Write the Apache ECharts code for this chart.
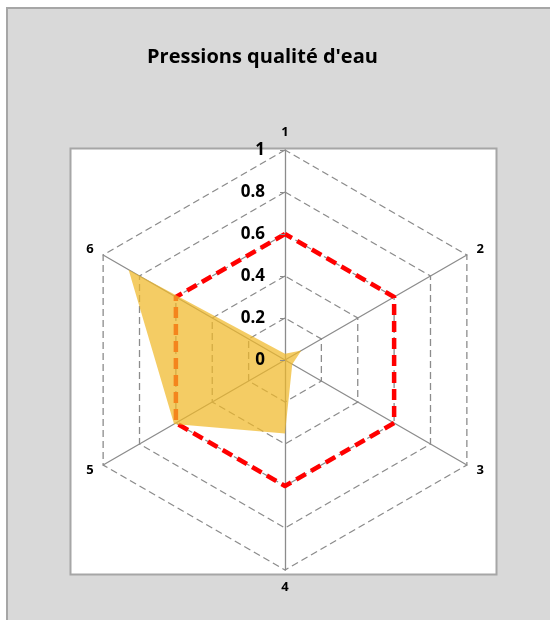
<!DOCTYPE html>
<html>
<head>
<meta charset="utf-8">
<script src="https://cdn.jsdelivr.net/npm/echarts@6/dist/echarts.min.js"></script>
<style>
  html, body { margin: 0; padding: 0; background: #fff; }
  #chart { width: 550px; height: 620px; }
</style>
</head>
<body>
<div id="chart"></div>
<script>
// axis names, clockwise from the top
const indicatorNames = ["1", "2", "3", "4", "5", "6"];
// pressure values
const pressureValues = [0.03, 0.09, 0.04, 0.35, 0.61, 0.86];
// red dashed threshold
const thresholdValues = [0.6, 0.6, 0.6, 0.6, 0.6, 0.6];
const axisMin = 0;
const axisMax = 1;
const axisStep = 0.2;

// echarts places radar indicators counter-clockwise, so walk 1,6,5,4,3,2
const order = [0, 5, 4, 3, 2, 1];
const pick = arr => order.map(i => arr[i]);

const chart = echarts.init(document.getElementById("chart"));

const labelFont = "Open Sans";

// first radar draws the web, second only carries the tick labels on top
const webIndicators = pick(indicatorNames).map(name => ({ name: name, min: axisMin, max: axisMax }));
const labelIndicators = pick(indicatorNames).map((name, i) => {
  const ind = { name: "", min: axisMin, max: axisMax };
  if (i === 0) {
    ind.axisLabel = {
      show: true,
      color: "#000",
      fontSize: 17,
      fontWeight: "bold",
      fontFamily: labelFont,
      margin: 20
    };
    ind.axisTick = {
      show: true,
      length: 5,
      lineStyle: { color: "#8c8c8c" }
    };
  }
  return ind;
});

const radarBase = {
  center: [285, 360],
  radius: 210,
  startAngle: 90,
  splitNumber: (axisMax - axisMin) / axisStep,
  shape: "polygon"
};

chart.setOption({
  animation: false,
  backgroundColor: "#fff",
  graphic: [
    {
      type: "rect",
      z: -10,
      shape: { x: 7, y: 8, width: 560, height: 630 },
      style: { fill: "#d9d9d9", stroke: "#a6a6a6", lineWidth: 2 }
    },
    {
      type: "rect",
      z: -9,
      shape: { x: 70.5, y: 148.5, width: 426, height: 426 },
      style: { fill: "#fff", stroke: "#a6a6a6", lineWidth: 2 }
    }
  ],
  title: {
    text: "Pressions qualité d'eau",
    left: 142,
    top: 42,
    textStyle: {
      fontFamily: labelFont,
      fontSize: 20,
      fontWeight: "bold",
      color: "#000"
    }
  },
  radar: [
    Object.assign({}, radarBase, {
      z: 1,
      indicator: webIndicators,
      axisName: {
        color: "#000",
        fontSize: 13,
        fontWeight: "bold",
        fontFamily: labelFont
      },
      nameGap: 11,
      axisLine: { lineStyle: { color: "#8c8c8c", width: 1.3 } },
      splitLine: { lineStyle: { color: "#8c8c8c", width: 1.3, type: [7, 4] } },
      splitArea: { show: false },
      axisTick: { show: false },
      axisLabel: { show: false }
    }),
    Object.assign({}, radarBase, {
      z: 10,
      indicator: labelIndicators,
      axisName: { show: false },
      axisLine: { show: false },
      splitLine: { show: false },
      splitArea: { show: false },
      axisTick: { show: false },
      axisLabel: { show: false }
    })
  ],
  series: [
    {
      type: "radar",
      radarIndex: 0,
      symbol: "none",
      z: 2,
      data: [
        {
          value: pick(thresholdValues),
          lineStyle: { color: "#ff0000", width: 4.5, type: [11, 6] }
        }
      ]
    },
    {
      type: "radar",
      radarIndex: 0,
      symbol: "none",
      z: 3,
      data: [
        {
          value: pick(pressureValues),
          lineStyle: { width: 0, opacity: 0 },
          areaStyle: {
            color: "rgb(240,185,40)",
            opacity: 0.72
          }
        }
      ]
    }
  ]
});
</script>
</body>
</html>
